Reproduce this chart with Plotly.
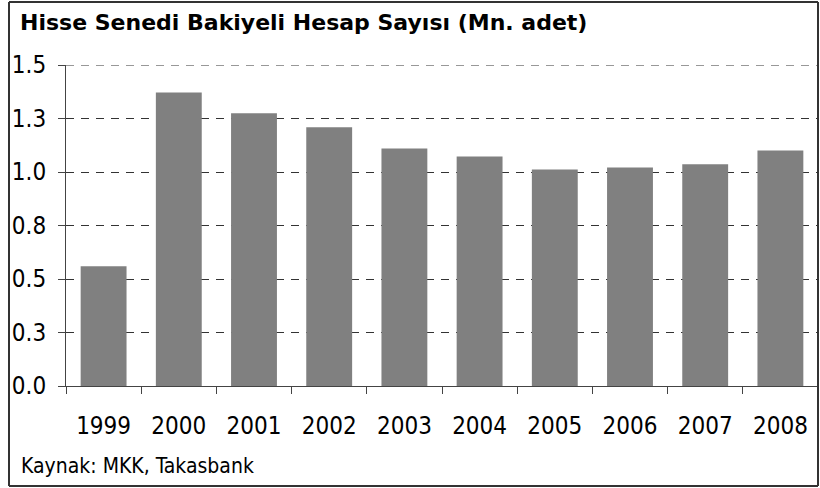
import plotly.graph_objects as go

years = ["1999", "2000", "2001", "2002", "2003", "2004", "2005", "2006", "2007", "2008"]
accounts = [0.560, 1.371, 1.274, 1.209, 1.110, 1.073, 1.012, 1.021, 1.036, 1.101]
y_tickvals = [0.0, 0.25, 0.5, 0.75, 1.0, 1.25, 1.5]
y_ticktext = ["0.0", "0.3", "0.5", "0.8", "1.0", "1.3", "1.5"]
title_text = "Hisse Senedi Bakiyeli Hesap Sayısı (Mn. adet)"
source_text = "Kaynak: MKK, Takasbank"

FONT = "DejaVu Sans Condensed, DejaVu Sans, sans-serif"
TFONT = "DejaVu Sans, sans-serif"

W, H = 820, 488
L, R, T, B = 66, 2, 65, 102
pw, ph = W - L - R, H - T - B

def px_x(p):
    return (p - L) / pw

def px_y(p):
    return (H - B - p) / ph

fig = go.Figure(go.Bar(
    x=years, y=accounts,
    marker=dict(color="#808080", line=dict(width=0)),
    hoverinfo="skip",
))

frame_color = "#333333"
fx0, fx1, fy0, fy1 = px_x(9), px_x(818), px_y(486), px_y(2)
shapes = []
for (a, b, c, d) in [(fx0, fy0, fx0, fy1), (fx1, fy0, fx1, fy1),
                     (fx0, fy0, fx1, fy0), (fx0, fy1, fx1, fy1)]:
    shapes.append(dict(type="line", xref="paper", yref="paper",
                       x0=a, y0=b, x1=c, y1=d,
                       line=dict(color=frame_color, width=2), layer="above"))
# top gridline (plotly omits the gridline at the axis range end)
shapes.append(dict(type="line", xref="paper", yref="y",
                   x0=0, x1=1, y0=y_tickvals[-1], y1=y_tickvals[-1],
                   line=dict(color="#333333", width=1, dash="8px,7px"),
                   layer="below"))

fig.update_layout(
    width=W, height=H,
    margin=dict(l=L, r=R, t=T, b=B, pad=0),
    paper_bgcolor="white", plot_bgcolor="white",
    bargap=0.39,
    showlegend=False,
    font=dict(family=FONT, size=24, color="black"),
    title=dict(
        text="<b>" + title_text + "</b>",
        x=20 / W, xanchor="left", xref="container",
        y=1 - 22 / H, yanchor="middle", yref="container",
        font=dict(family=TFONT, size=22, color="black"),
    ),
    xaxis=dict(
        type="category",
        showline=True, linecolor="#444444", linewidth=1,
        ticks="outside", ticklen=7, tickcolor="#444444", tickwidth=1,
        tickson="boundaries",
        showgrid=False,
        ticklabelstandoff=18,
        tickfont=dict(family=FONT, size=24, color="black"),
    ),
    yaxis=dict(
        range=[0, 1.5],
        tickvals=y_tickvals, ticktext=y_ticktext,
        showline=True, linecolor="#444444", linewidth=1,
        ticks="outside", ticklen=7, tickcolor="#444444", tickwidth=1,
        showgrid=True, gridcolor="#333333", gridwidth=1, griddash="8px,7px",
        zeroline=False,
        ticklabelstandoff=7,
        tickfont=dict(family=FONT, size=24, color="black"),
    ),
    annotations=[dict(
        text=source_text, xref="paper", yref="paper",
        x=px_x(19), y=px_y(466), xanchor="left", yanchor="middle",
        showarrow=False, font=dict(family=FONT, size=21, color="black"),
    )],
    shapes=shapes,
)

fig.write_html("out.html", config={"displayModeBar": False},
               post_script="document.body.style.margin='0px';")
